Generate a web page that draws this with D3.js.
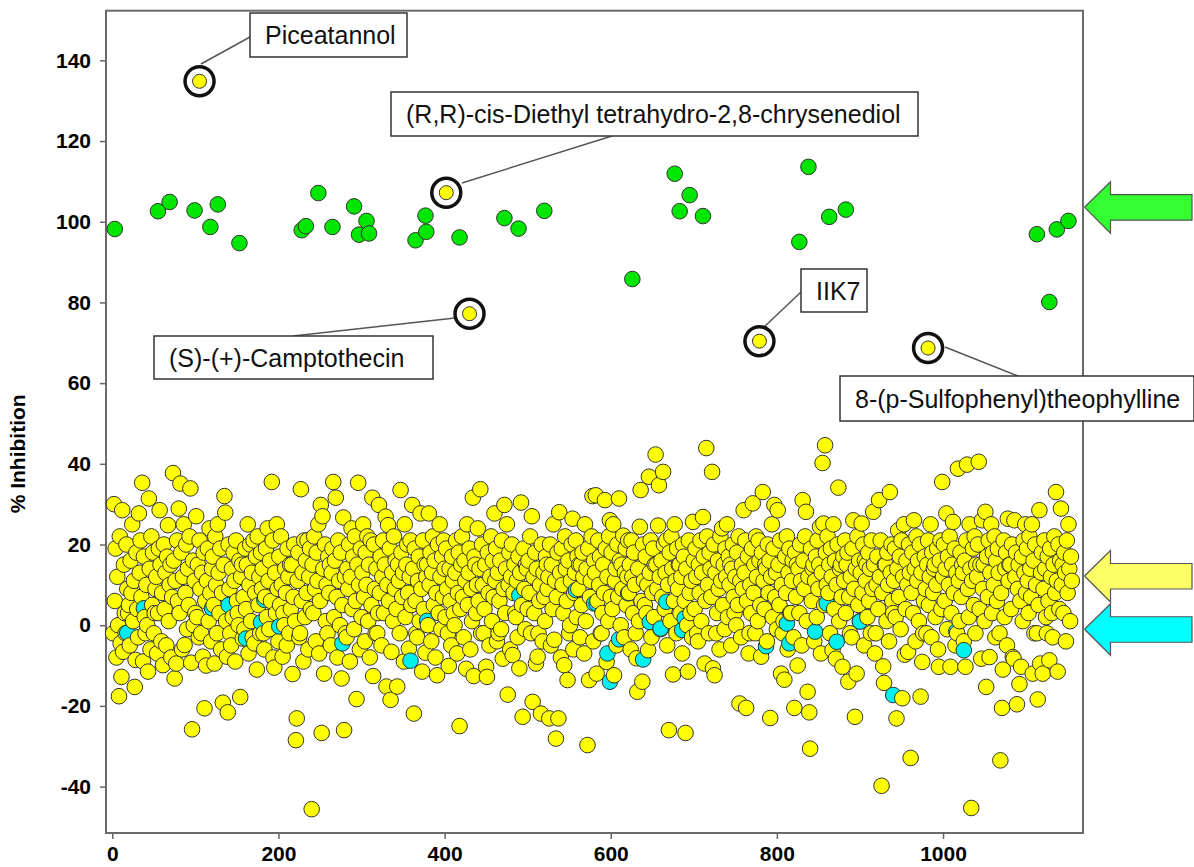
<!DOCTYPE html>
<html>
<head>
<meta charset="utf-8">
<script src="https://cdn.jsdelivr.net/npm/d3@7"></script>
<style>
  body { margin: 0; background: #fff; }
  svg { display: block; font-family: "Liberation Sans", Arial, sans-serif; }
  .tick text { font-weight: bold; font-size: 21px; fill: #000; }
  .tick line { stroke: #666; stroke-width: 1.5; }
</style>
</head>
<body>
<svg width="1194" height="867"></svg>
<script>
// % inhibition of each test compound, x = compound number (1, 2, 3 ...)
const yellowValues = [
  -2, 30, 6, 19, -8, 12, 0, -17.6, 22, -4.5, -12.8, 28.5, -6.6, 15, 3, -2, 20, 9, 3, 5,
  -5, 16, 8, 25, 1, 11, -15.3, -8.6, 18, 4, -3, 27.7, 13, 21, 7, 35.3, -9, 17, 2, -2,
  10, 0, -11.5, 31.4, 14, -6, 22, 5, 18, -2, 3, 9, 12, -7, 3, 19, 28.5, 15, -4, 8,
  -9.9, 20, 4, 13, -5, 17, 24.8, 1, 10, 15, -8, 7, 37.7, 16, -13.2, 11, -9.5, 21, 6, 28.9,
  3, 35.1, 18, -6, 12, 25, -4.9, 8, 20, -1, 14, 5, 22, 33.9, -9.3, -25.8, 16, 0, 11, 3,
  27, 2, 15, -3, 21, 9, -2, 13, -7.8, 18, -20.6, 6, -10, 11, 19, 1, 24, 8, -4, 14,
  17, 5, -9.5, 22, 10, -2, 25, 13, 3, 19, -6, 8, -19.2, 15, 32, 27.9, 1, -7.8, -21.6, 20,
  9, -2, -5, 14, 2, 18, 11, -9, 21, 6, 3, 0, 16, -17.8, 12, 15, -3.3, 7, -1, 19,
  4, 15, 25, -7, 10, 20, 1, 13, -3, 21, -4.5, 8, 17, -11, 22, 5, 12, -2, 18, 9,
  14, -2, -6, 7, 19, 2, 24, 11, -1, 16, 6, 35.5, 21, -8, -10.5, 13, 3, 25, 9, -4,
  17, 5, 22, 10, -7.8, 3, 0, 14, 8, -5, 19, 12, -2, 15, 4, 15, -12.1, 7, 20, 1,
  -28.5, -23.1, 11, 18, -3, -2, 33.7, 6, 13, -9, 21, 2, 16, 8, 21, -6, 12, 19, 4, -45.6,
  15, 3, 22, 9, -4, 18, 11, 25, -7, 6, 29.8, -26.7, 27, 14, -12, 20, 1, 10, -2, 17,
  8, 15, -5, 13, 19, 35.5, 2, 16, 31.6, 7, -8, 21, 11, 0, 18, -13.2, 5, 26.7, -26, 12,
  -2, -3, 14, 9, 20, -9, 12, 24, 4, 17, -1, 22, 6, -18.3, 15, 35.3, 10, -6, 19, 2,
  13, 25, 7, -4, 18, 10, 22, 1, 15, -8, 21, 5, 31.6, -12.6, 20, 9, -2, 14, -2, 3,
  29.8, 8, 17, -5, 12, 21, 3, 15, 26.9, -15.2, 10, 24.8, 6, 19, -18.5, -6.6, 13, 1, 22, 9,
  16, 4, -15.2, 15, 11, -2, 33.5, 18, 7, 13, -9, 25, 2, 15, 20, 8, -5.8, 12, 21, 5,
  29.8, 14, -21.9, 19, 6, -2, -3, 11, 17, 1, 27.7, 9, -11.5, 21, 4, 15, -6.8, 12, 15, 0,
  27.7, 10, 18, -4, 13, 22, 5, 16, -8, 8, -12.4, 20, 3, 25, 12, -1, 17, 7, 21, 14,
  2, 19, 9, -2, -10.1, 14, 6, -5, 17, 11, 3, 0, 13, 21, -7, 8, 18, -25, 4, 15,
  22, 7, -3, 16, 11, -10.8, 25, 5, 13, 19, -6, 9, 1, 31.6, -12.6, 17, 15, 3, 10, 24,
  6, 14, 33.7, -2, 20, 10, -2, 4, 15, -10.3, -12.8, 18, 8, -5, 12, 22, 1, 16, 7, 27.7,
  11, 19, -4, 13, -2, 6, 16, -1, 21, -8.3, 9, 29.8, 3, 14, 25, -17.2, 10, 18, -6, 12,
  20, -7.4, 8, 15, 3, 2, 11, -3, 17, -10.7, 13, 30.4, 5, -22.7, 19, 9, -1, 15, 14, 4,
  16, 8, 22, -2, 27, -19, 12, 3, 18, -9.5, 14, -7.8, -2, 6, 10, -21.9, 20, -4, 13, 7,
  1, 17, 15, 9, 12, -23.1, 20, -5, 15, 4, 25, -3.6, 11, -28.1, 7, 18, -23.1, 28, 13, -8,
  19, 10, 3, -9.9, 22, 14, 6, -13.6, 16, -2, 0, 11, 20, 26.4, -6, 8, 13, 21, 2, 17,
  9, 15, -3, 15, 5, 18, 12, -7, 25, 1, 14, -29.7, 19, -13.6, 7, 11, 22, 32, -4, 16,
  13, 32.2, -12, 6, 21, 10, 17, -2, -2, 3, 15, 8, 31, 19, -9.1, 12, 1, 22, 26, 7,
  18, 4, 25, -12.4, 11, 14, -5, 20, 7, 31.4, 16, 0, 15, 9, 22.2, -3, 13, 19, 5, 12,
  21, 8, 15, -6, 21, 12, 3, 18, 10, -2, -8.2, -16.5, 14, 1, 24.4, 33.5, 6, -14, 20, 11,
  5, 17, 3, 10, -6.2, 36.8, 13, 21, -3, 8, 19, 2, 15, 42.3, 15, 9, 24.7, 34.7, 12, -1,
  16, 7, 38, 20, 4, 13, 21, -5, 10, -26, 18, 1, 22, 14, -12.2, 6, 25, 11, -2, 19,
  9, 15, 15, 3, 12, -7, 20, 17, 6, -26.7, 14, 0, -11.5, 21, 8, 3, 11, -3, 25.6, 16,
  4, 19, 12, -2, -4, 15, 8, 21, 1, 13, 26.8, 17, -9.5, 6, 43.9, 22, 10, -2, 18, 14,
  7, 38, -10.7, 20, -12.4, 13, -2, 3, 16, 9, -6, 22, 11, 24, 5, 15, -1, 19, 12, 25,
  2, 17, 10, 15, -5, 14, 20, 7, 3, 12, 0, 18, 5, 22, -19.4, 11, -3, 15, 9, 28.5,
  13, 21, -20.5, 6, 17, -7, -2, 10, 3, 19, 30.2, 8, 15, -2, 22, 12, 1, 21, 16, 5,
  -7.8, 18, 33, 11, 4, 15, 14, -4, 20, 8, 16, -23, 12, 25, 2, 19, 29.8, 7, 13, -1,
  28.5, 15, 5, 21, -12, 10, -2, 1, -13.5, 17, 8, 22, -6, 13, 19, 3, 3, 11, 16, -3,
  -20.5, 18, 7, 15, -10, 14, 3, 20, 11, -5, 31, 16, 9, 22, 28.1, 1, -16.5, 12, -21.6, -30.6,
  19, 6, 14, 15, -4, 11, 17, 2, 21, 9, 15, 24.4, -7, 13, 40.2, 25.2, 5, 44.6, 18, 10,
  22, 8, 15, -2, 19, 12, -6.2, 25, 4, 16, -8.3, 10, 20, 34.1, 1, 14, 15, 7, -10.3, 17,
  11, 21, 3, 15, 18, -14, 7, -2, 12, -3, 19, 26, 9, -22.7, 14, -12, 22, 5, 16, 1,
  13, 25.2, 8, 20, -5, 16, 11, 15, 2, 18, 6, 14, -2, 21, 9, 28.1, 15, -7, -2, 10,
  17, 4, 31, 12, 21, -39.8, 8, -10.2, -14.3, 15, 15, 1, 18, 10, -4, 33, 13, 20, 6, 3,
  11, 19, 2, -23.1, 14, 23.5, 7, 17, -1, 21, -18.1, 12, 25, -7.3, 4, 16, 10, -6.6, 20, 13,
  -32.9, 8, 18, 3, 26, 14, -4, 22, 11, 16, 1, 20, -17.7, 13, -9.1, -2, 6, 17, 9, -2,
  15, 21, 5, 12, 25, -3, 18, 8, 14, 15, 2, 10, 19, -6, -10.3, 16, 21, 4, 35.5, 12,
  20, 6, 14, 27.7, -1, 17, 10, 22, -10.3, 3, 15, 25.6, 8, 19, -5, 13, -2, 38.8, 11, 1,
  18, 7, 15, 13, -4, 16, -10.3, 21, 39.8, 9, 2, 25, 14, -45.3, 11, 19, 5, 22, -2, 15,
  12, 20, 40.5, 4, 15, -8.3, 26, 9, 15, 1, 28.1, -15.3, 17, 7, 21, -7.9, 13, 25, 3, 18,
  10, 22, -3, 16, 6, 19, 13, -2, -33.5, 8, -20.5, -11, 21, 2, 14, 18, -5, 26.4, 11, 15,
  15, 4, 20, -7.9, -8.3, 26, 12, 18, -19.6, 9, 15, -14.6, 6, -10.3, 17, 1, 21, 13, 25, 8,
  19, 11, 3, 22, 14, 7, 25, -12, 16, -2, 20, 10, -2, -18.4, 5, 28.5, -9.5, 13, 18, -12,
  9, 21, 14, 2, -2, 17, 6, -8.7, 19, 12, 3, -3, 15, 22, 8, 33, 11, -11.5, 20, 4,
  16, 28.9, 10, 15, 3, 18, 13, -4, 21, 8, 25, 14, 1, 17, 11
]

// negative controls (cyan) as [compound number, % inhibition]
const cyanPoints = [
  [18, -1.9], [38, 4.2], [120, 4.2], [140, 5.0], [161, -3.3], [179, 0.7], [183, 6.3],
  [201, -0.3], [277, -4.5], [359, -8.8], [379, 1.1], [490, 7.4], [558, 8.7], [580, 5.4],
  [583, 5.4], [596, -7], [599, -14], [610, -3.5], [621, 7.9], [639, -8.5], [647, 0.8],
  [660, -0.8], [667, 5.8], [686, -1.2], [689, 1.7], [787, -5.2], [812, 0.4], [815, -4.5],
  [846, -1.6], [860, 5.4], [872, -4.1], [900, 0.9], [940, -17.3], [1016, -1.5], [1025, -6.2]
]

// positive controls (green)
const greenPoints = [
  [3, 98.2], [55, 102.6], [69, 104.9], [99, 102.8], [118, 98.7], [127, 104.3], [153, 94.7],
  [228, 97.9], [233, 98.9], [248, 107.1], [265, 98.7], [291, 103.8], [297, 96.8], [306, 100.2],
  [309, 97.1], [365, 95.4], [377, 101.5], [378, 97.5], [418, 96.1], [472, 100.9], [489, 98.3],
  [520, 102.7], [626, 85.8], [677, 111.9], [683, 102.6], [695, 106.6], [711, 101.4],
  [827, 95.0], [838, 113.6], [863, 101.2], [883, 103.0], [1113, 96.9], [1128, 80.1],
  [1137, 98.1], [1151, 100.2]
]

// highlighted hits
const hitNames = ['Piceatannol', '(R,R)-cis-Diethyl tetrahydro-2,8-chrysenediol',
  '(S)-(+)-Camptothecin', 'IIK7', '8-(p-Sulfophenyl)theophylline']
const hitX = [105, 402, 430, 779, 982]
const hitY = [134.8, 107.2, 77.2, 70.4, 68.7]

// group means marked by the arrows on the right
const arrowLevels = [103.6, 12.2, -1.0]
const arrowColors = ['#33ff33', '#ffff66', '#00ffff']

const yTicks = [-40, -20, 0, 20, 40, 60, 80, 100, 120, 140]
const xTicks = [0, 200, 400, 600, 800, 1000]

// callout boxes: [left, top, right, bottom] and leader line start/end in pixels
const boxes = [
  { box: [250, 13, 407, 57], line: [201, 64, 250, 37] },
  { box: [391, 92, 918, 136], line: [462, 183, 612, 136] },
  { box: [154, 336, 433, 379], line: [293, 336, 455, 318] },
  { box: [801, 269, 867, 312], line: [763, 328, 801, 292] },
  { box: [840, 376, 1194, 421], line: [945, 347, 1018, 376] }
]

const svg = d3.select('svg')
const plot = { left: 106, right: 1083, top: 10.7, bottom: 833 }

const x = d3.scaleLinear().domain([-7.6, 1168.5]).range([plot.left, plot.right])
const y = d3.scaleLinear().domain([-51.5, 152.3]).range([plot.bottom, plot.top])

//frame
svg.append('rect')
  .attr('x', plot.left).attr('y', plot.top)
  .attr('width', plot.right - plot.left).attr('height', plot.bottom - plot.top)
  .attr('fill', 'none').attr('stroke', '#6a6a6a').attr('stroke-width', 2)

//plain labels: no thousands comma, ascii minus
const plain = d => String(d)

const yAxis = svg.append('g')
  .attr('transform', 'translate(' + plot.left + ',0)')
  .call(d3.axisLeft(y).tickValues(yTicks).tickFormat(plain).tickSize(6).tickPadding(9))
yAxis.select('.domain').remove()

const xAxis = svg.append('g')
  .attr('transform', 'translate(0,' + plot.bottom + ')')
  .call(d3.axisBottom(x).tickValues(xTicks).tickFormat(plain).tickSize(6).tickPadding(7))
xAxis.select('.domain').remove()

svg.append('text')
  .attr('transform', 'translate(25,' + ((plot.top + plot.bottom) / 2 + 32) + ') rotate(-90)')
  .attr('text-anchor', 'middle')
  .attr('font-weight', 'bold').attr('font-size', 21)
  .text('% Inhibition')

// all points in compound order so that overlaps look natural
const points = yellowValues.map((v, i) => ({ x: i + 1, y: v, c: '#ffff00' }))
  .concat(cyanPoints.map(d => ({ x: d[0], y: d[1], c: '#00f0f0' })))
  .concat(greenPoints.map(d => ({ x: d[0], y: d[1], c: '#00e600' })))
  .sort((a, b) => a.x - b.x)

svg.append('g')
  .selectAll('circle')
  .data(points)
  .enter()
  .append('circle')
    .attr('cx', d => x(d.x))
    .attr('cy', d => y(d.y))
    .attr('r', 7.8)
    .attr('fill', d => d.c)
    .attr('stroke', '#333')
    .attr('stroke-width', 1)

// leader lines, then boxes, then hits
const callouts = svg.append('g')
callouts.selectAll('line')
  .data(boxes)
  .enter()
  .append('line')
    .attr('x1', d => d.line[0]).attr('y1', d => d.line[1])
    .attr('x2', d => d.line[2]).attr('y2', d => d.line[3])
    .attr('stroke', '#555').attr('stroke-width', 1.5)

const hits = hitNames.map((name, i) => ({ name: name, x: hitX[i], y: hitY[i], layout: boxes[i] }))

const hitG = svg.append('g')
hitG.selectAll('.ring')
  .data(hits)
  .enter()
  .append('circle')
    .attr('class', 'ring')
    .attr('cx', d => x(d.x)).attr('cy', d => y(d.y))
    .attr('r', 14.5)
    .attr('fill', '#fff').attr('stroke', '#111').attr('stroke-width', 3.5)
hitG.selectAll('.dot')
  .data(hits)
  .enter()
  .append('circle')
    .attr('class', 'dot')
    .attr('cx', d => x(d.x)).attr('cy', d => y(d.y))
    .attr('r', 7)
    .attr('fill', '#ffff00').attr('stroke', '#333').attr('stroke-width', 1)

const labels = svg.append('g').selectAll('g')
  .data(hits)
  .enter()
  .append('g')
labels.append('rect')
  .attr('x', d => d.layout.box[0]).attr('y', d => d.layout.box[1])
  .attr('width', d => d.layout.box[2] - d.layout.box[0])
  .attr('height', d => d.layout.box[3] - d.layout.box[1])
  .attr('fill', '#fff').attr('stroke', '#333').attr('stroke-width', 1.5)
labels.append('text')
  .attr('x', d => d.layout.box[0] + 15)
  .attr('y', d => (d.layout.box[1] + d.layout.box[3]) / 2 + 9)
  .attr('font-size', 25)
  .attr('fill', '#111')
  .text(d => d.name)

// arrows on the right pointing at the group means
const arrow = d3.line()
svg.append('g')
  .selectAll('path')
  .data(arrowLevels)
  .enter()
  .append('path')
    .attr('d', (v, i) => {
      const tx = plot.right + 1.5
      const ty = y(v)
      return arrow([[tx, ty], [tx + 26, ty - 25.5], [tx + 26, ty - 12.5], [1192, ty - 12.5],
        [1192, ty + 13], [tx + 26, ty + 13], [tx + 26, ty + 26], [tx, ty]])
    })
    .attr('fill', (v, i) => arrowColors[i])
    .attr('stroke', '#555')
    .attr('stroke-width', 1.2)
</script>
</body>
</html>
